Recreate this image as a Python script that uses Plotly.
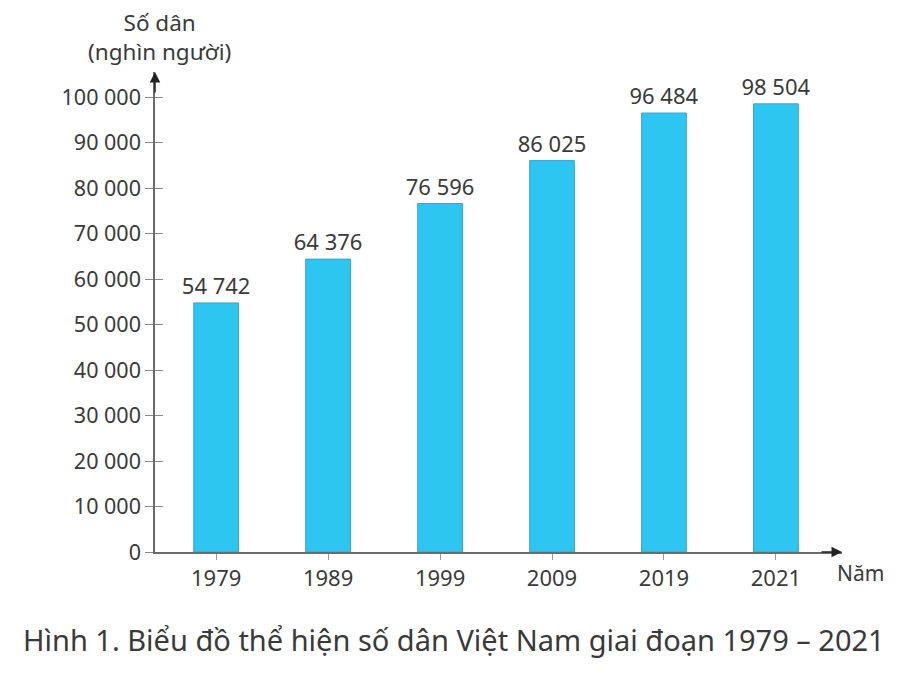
import plotly.graph_objects as go

years = ["1979", "1989", "1999", "2009", "2019", "2021"]
population = [54742, 64376, 76596, 86025, 96484, 98504]
y_ticks = [0, 10000, 20000, 30000, 40000, 50000, 60000, 70000, 80000, 90000, 100000]

FONT = "Noto Sans"
TXT = "#3a3a3a"
AX = "#6b6b6b"

fig = go.Figure()
fig.add_trace(go.Bar(
    x=years, y=population,
    width=0.40,
    marker=dict(color="#2cc6f1", line=dict(color="#3aa6c8", width=1)),
    texttemplate="%{y:,d}", textposition="outside", cliponaxis=False,
    constraintext="none",
    textfont=dict(family=FONT, size=22, color=TXT),
    hoverinfo="skip",
))
# invisible trace on the overlay axis so its inner ticks are drawn
fig.add_trace(go.Scatter(x=years, y=population, yaxis="y2", mode="none",
                         showlegend=False, hoverinfo="skip"))

yr = [0, 105500]
fig.update_layout(
    width=920, height=684,
    margin=dict(l=155, r=78, t=72, b=132),
    paper_bgcolor="white", plot_bgcolor="white",
    separators=", ",
    showlegend=False,
    xaxis=dict(
        type="category", range=[-0.546, 5.590], automargin=False,
        showgrid=False, zeroline=False,
        showline=True, linecolor=AX, linewidth=1.5,
        ticks="outside", ticklen=6, tickcolor="#9a9a9a", tickwidth=1,
        tickfont=dict(family=FONT, size=22, color=TXT),
    ),
    yaxis=dict(
        range=yr, tickvals=y_ticks, tickformat=",d", automargin=False,
        showgrid=False, zeroline=False,
        showline=True, linecolor=AX, linewidth=1.5,
        ticks="outside", ticklen=8, tickcolor="#8a8a8a", tickwidth=1,
        tickfont=dict(family=FONT, size=21.5, color=TXT),
    ),
    yaxis2=dict(
        overlaying="y", side="left", range=yr, tickvals=y_ticks, automargin=False,
        showticklabels=False, showgrid=False, zeroline=False, showline=False,
        ticks="inside", ticklen=8, tickcolor="#8a8a8a", tickwidth=1,
    ),
    annotations=[
        dict(text="Số dân<br>(nghìn người)", xref="paper", yref="paper",
             x=0, y=1, xshift=4, yshift=3, xanchor="center", yanchor="bottom",
             showarrow=False, align="center",
             font=dict(family=FONT, size=22.5, color=TXT)),
        dict(text="", xref="paper", yref="paper", x=0, y=1, yshift=0,
             ax=0, ay=22, showarrow=True, arrowhead=2, arrowsize=1.4,
             arrowwidth=1.5, arrowcolor="#222"),
        dict(text="", xref="paper", yref="paper", x=1, y=0,
             ax=-22, ay=0, showarrow=True, arrowhead=2, arrowsize=1.4,
             arrowwidth=1.5, arrowcolor="#222"),
        dict(text="Năm", xref="paper", yref="paper", x=1, y=0,
             xanchor="left", yanchor="top", xshift=-7, yshift=-5, showarrow=False,
             font=dict(family=FONT, size=21, color=TXT)),
        dict(text="Hình 1. Biểu đồ thể hiện số dân Việt Nam giai đoạn 1979 – 2021",
             xref="paper", yref="paper", x=0.5, y=0, xshift=-45, yshift=-66,
             xanchor="center", yanchor="top", showarrow=False,
             font=dict(family=FONT, size=29, color=TXT)),
    ],
)

fig.write_html("out.html", config={"displayModeBar": False},
               post_script="document.body.style.margin='0';")
